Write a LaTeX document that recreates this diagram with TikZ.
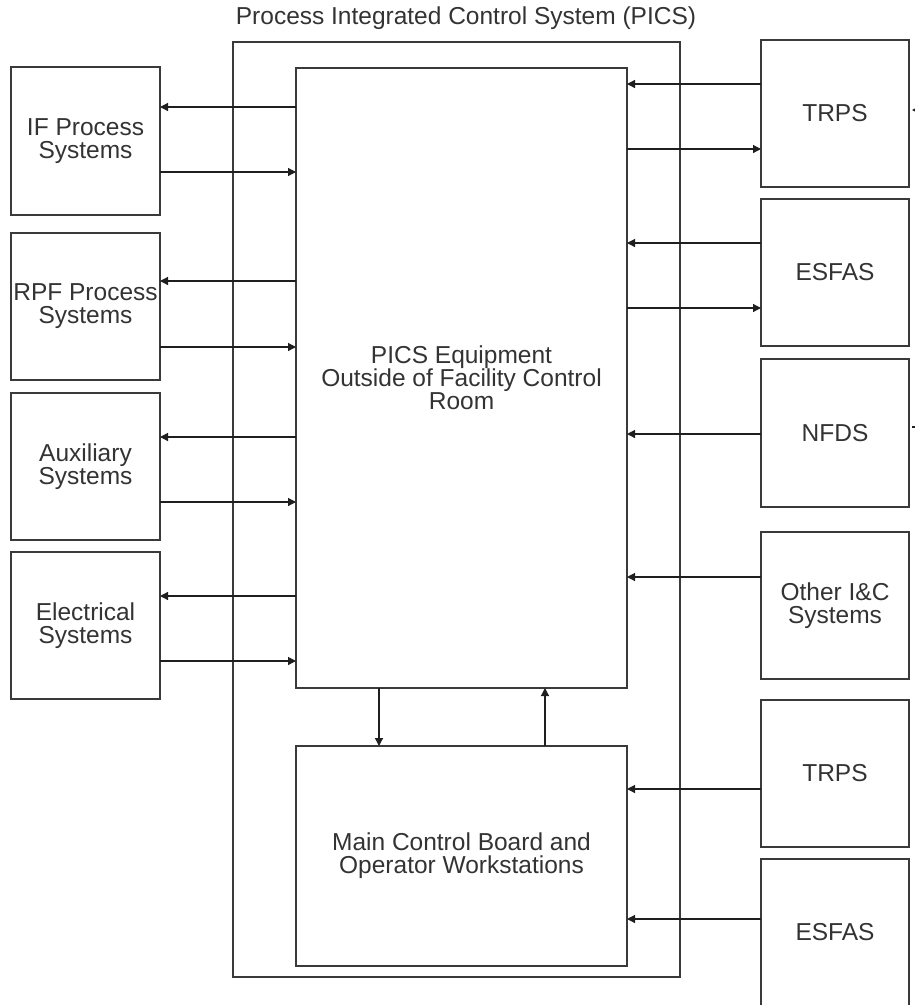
\documentclass[tikz,border=0pt]{standalone}
\usepackage{fontspec}
\setmainfont{Liberation Sans}
\usetikzlibrary{arrows.meta}
\definecolor{ln}{HTML}{3A3A3A}
\definecolor{tx}{HTML}{333333}
\begin{document}
\begin{tikzpicture}[x=1pt,y=-1pt,
  txt/.style={text=tx, font=\fontsize{24.5}{23}\selectfont, align=center},
  box/.style={draw=ln, line width=1.2pt, inner sep=0pt, outer sep=0pt, anchor=north west, txt},
  arr/.style={draw=black!88, line width=1.2pt, -{Triangle[length=8pt,width=8pt]}}]
\useasboundingbox (0,0) rectangle (915,1005);
\clip (0,0) rectangle (915,1005);
% title
\node[txt] (title) at (466,18) {Process Integrated Control System (PICS)};
% PICS boxes
\node[box, minimum width=447pt, minimum height=935pt] (outer) at (233,42) {};
\node[box, minimum width=331pt, minimum height=620pt] (inner) at (296,68) {PICS Equipment\\Outside of Facility Control\\Room};
\node[box, minimum width=331pt, minimum height=220pt] (mcb) at (296,746) {Main Control Board and\\Operator Workstations};
% left boxes
\node[box, minimum width=149pt, minimum height=148pt] (if) at (11,67) {IF Process\\Systems};
\node[box, minimum width=149pt, minimum height=147pt] (rpf) at (11,233) {RPF Process\\Systems};
\node[box, minimum width=149pt, minimum height=147pt] (aux) at (11,393) {Auxiliary\\Systems};
\node[box, minimum width=149pt, minimum height=147pt] (elec) at (11,552) {Electrical\\Systems};
% right boxes
\node[box, minimum width=148pt, minimum height=147pt] (trpsa) at (761,40) {TRPS};
\node[box, minimum width=148pt, minimum height=147pt] (esfasa) at (761,199) {ESFAS};
\node[box, minimum width=148pt, minimum height=148pt] (nfds) at (761,359) {NFDS};
\node[box, minimum width=148pt, minimum height=147pt] (other) at (761,532) {Other I\&C\\Systems};
\node[box, minimum width=148pt, minimum height=147pt] (trpsb) at (761,700) {TRPS};
\node[box, minimum width=148pt, minimum height=147pt] (esfasb) at (761,859) {ESFAS};
% left connectors
\draw[arr] (inner.west |- 0,107) -- (if.east |- 0,107);
\draw[arr] (if.east |- 0,172) -- (inner.west |- 0,172);
\draw[arr] (inner.west |- 0,281) -- (rpf.east |- 0,281);
\draw[arr] (rpf.east |- 0,347) -- (inner.west |- 0,347);
\draw[arr] (inner.west |- 0,437) -- (aux.east |- 0,437);
\draw[arr] (aux.east |- 0,502) -- (inner.west |- 0,502);
\draw[arr] (inner.west |- 0,596) -- (elec.east |- 0,596);
\draw[arr] (elec.east |- 0,661) -- (inner.west |- 0,661);
% right connectors
\draw[arr] (trpsa.west |- 0,84) -- (inner.east |- 0,84);
\draw[arr] (inner.east |- 0,149) -- (trpsa.west |- 0,149);
\draw[arr] (esfasa.west |- 0,243) -- (inner.east |- 0,243);
\draw[arr] (inner.east |- 0,308) -- (esfasa.west |- 0,308);
\draw[arr] (nfds.west |- 0,434) -- (inner.east |- 0,434);
\draw[arr] (other.west |- 0,577) -- (inner.east |- 0,577);
\draw[arr] (trpsb.west |- 0,789) -- (mcb.east |- 0,789);
\draw[arr] (esfasb.west |- 0,919) -- (mcb.east |- 0,919);
% vertical connectors
\draw[arr] (inner.south -| 379,0) -- (mcb.north -| 379,0);
\draw[arr] (mcb.north -| 545,0) -- (inner.south -| 545,0);
% partly visible connectors at the right edge
\coordinate (offa) at (945,110);
\coordinate (offb) at (945,427);
\draw[arr] (offa) -- ([xshift=3pt]trpsa.east |- 0,110);
\draw[draw=black!88, line width=1.2pt] (offb) -- ([xshift=3pt]nfds.east |- 0,427);
\end{tikzpicture}
\end{document}
